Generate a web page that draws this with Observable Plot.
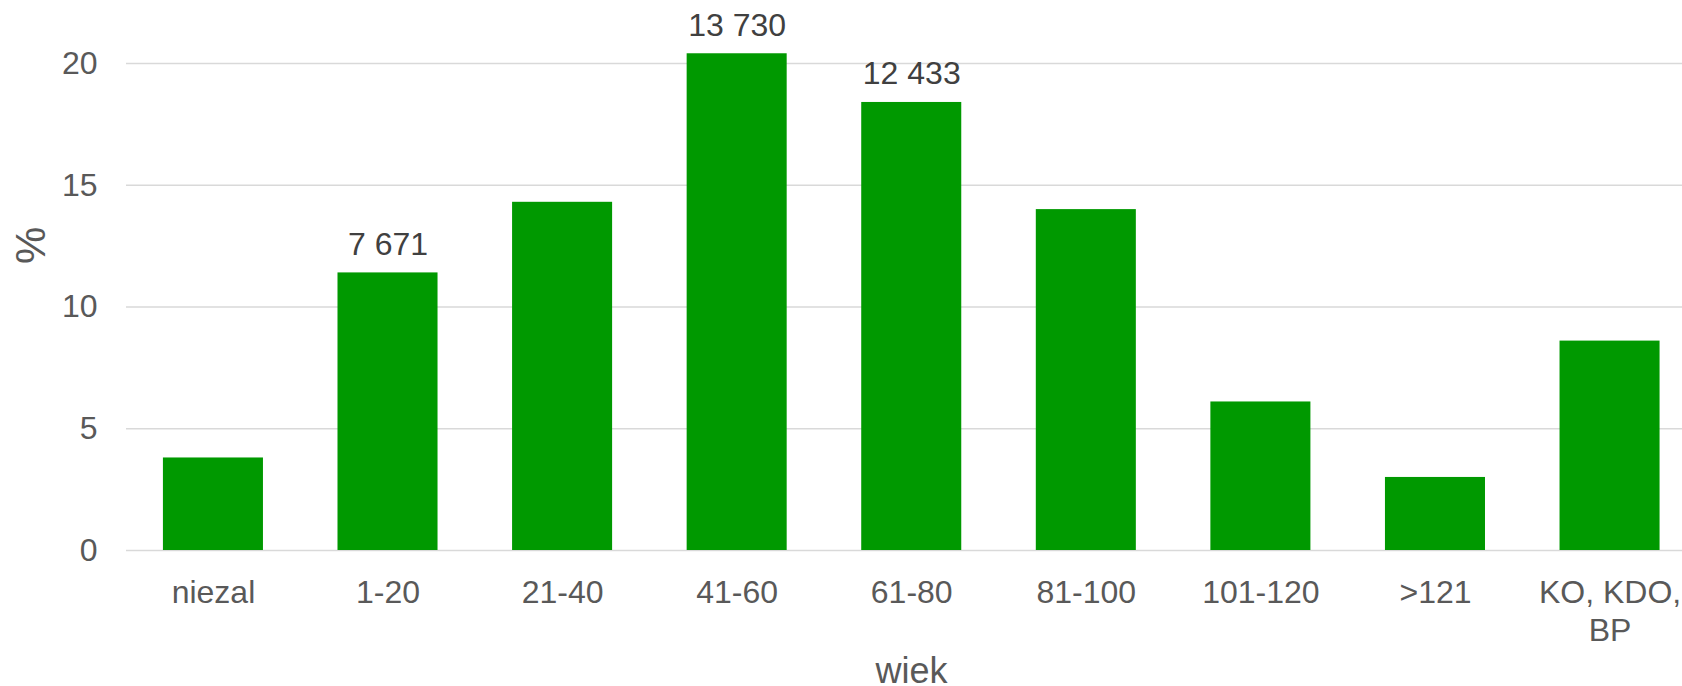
<!DOCTYPE html>
<html><head><meta charset="utf-8">
<script src="https://cdn.jsdelivr.net/npm/d3@7"></script>
<script src="https://cdn.jsdelivr.net/npm/@observablehq/plot@0.6"></script>
<style>html,body{margin:0;padding:0;background:#fff;}</style>
</head><body><div id="chart"></div>
<script>
const categories = ["niezal", "1-20", "21-40", "41-60", "61-80", "81-100", "101-120", ">121", "KO, KDO, BP"];
const tickLabels = ["niezal", "1-20", "21-40", "41-60", "61-80", "81-100", "101-120", ">121", "KO, KDO,\nBP"];
const percents = [3.8, 11.4, 14.3, 20.4, 18.4, 14.0, 6.1, 3.0, 8.6];
const labelCategories = ["1-20", "41-60", "61-80"];
const labelCounts = [7671, 13730, 12433];
const yTicks = [0, 5, 10, 15, 20];

const fmt = d3.formatLocale({decimal: ",", thousands: " ", grouping: [3], currency: ["", ""]}).format(",");
const data = categories.map((c, i) => ({cat: c, pct: percents[i]}));
const labelData = labelCategories.map((c, i) => ({cat: c, count: labelCounts[i], pct: percents[categories.indexOf(c)]}));
const tickMap = new Map(categories.map((c, i) => [c, tickLabels[i]]));

const chart = Plot.plot({
  width: 1682,
  height: 686,
  marginLeft: 126,
  marginRight: 0,
  marginTop: 63,
  marginBottom: 136,
  style: {fontFamily: "'Liberation Sans', Arial, sans-serif", background: "#fff"},
  x: {type: "band", domain: categories, paddingInner: 0.427, paddingOuter: 0.17, align: 0.622, round: false, label: null},
  y: {domain: [0, 20], label: null},
  marks: [
    Plot.ruleY(yTicks, {stroke: "#d9d9d9", strokeWidth: 1.7}),
    Plot.barY(data, {x: "cat", y: "pct", fill: "#009900"}),
    Plot.axisY({ticks: yTicks, tickSize: 0, tickPadding: 29, fontSize: 32, color: "#595959", label: null}),
    Plot.axisX({tickSize: 0, tickPadding: 26, fontSize: 32, lineHeight: 1.18, color: "#595959", tickFormat: d => tickMap.get(d), label: null}),
    Plot.text(labelData, {x: "cat", y: "pct", text: d => fmt(d.count), lineAnchor: "bottom", dy: -18, fontSize: 32, fill: "#404040"}),
    Plot.text(["wiek"], {frameAnchor: "bottom", lineAnchor: "bottom", dx: 7, dy: 132, fontSize: 36, fill: "#595959"}),
    Plot.text(["%"], {frameAnchor: "left", rotate: -90, dx: -95, dy: -43, fontSize: 42, fill: "#595959"})
  ]
});
document.getElementById("chart").appendChild(chart);
</script>
</body></html>
